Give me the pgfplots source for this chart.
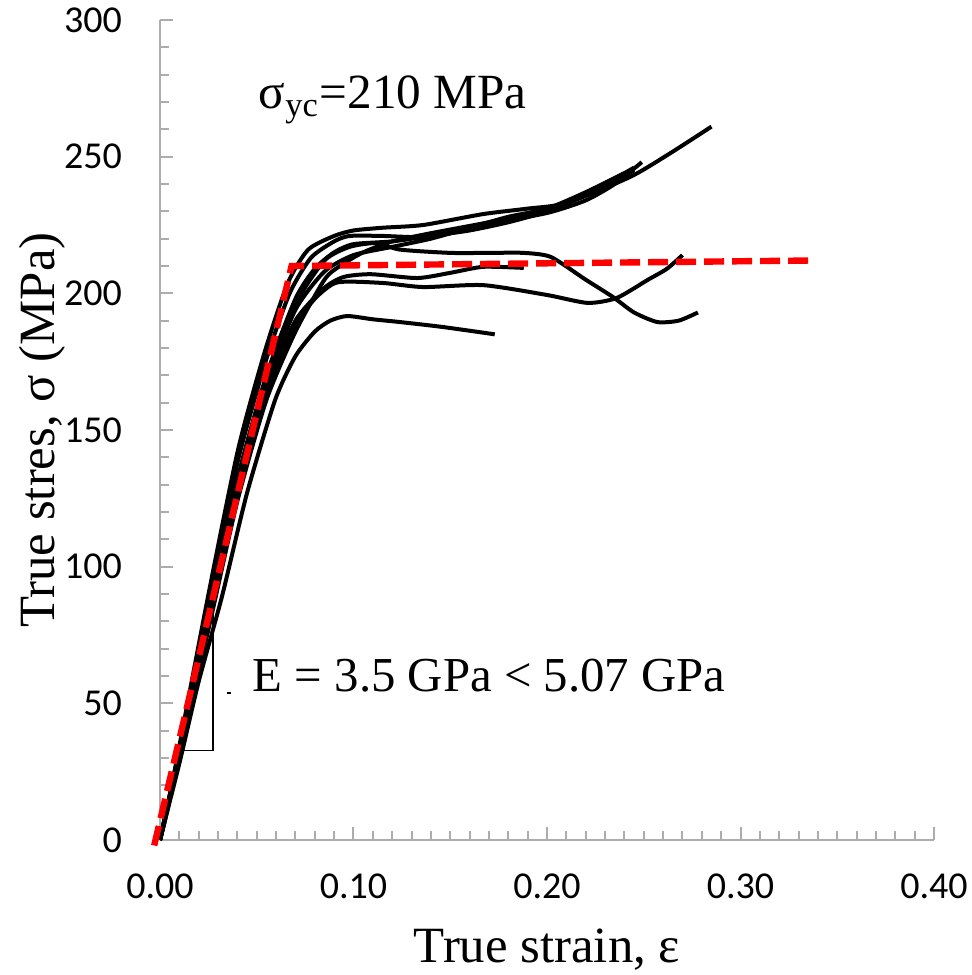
\documentclass[border=0pt]{standalone}
\usepackage{fontspec}
\setmainfont{Liberation Serif}
\newfontfamily\calibri{Carlito}
\usepackage{pgfplots}
\pgfplotsset{compat=1.18}

\begin{document}
\begin{tikzpicture}
\useasboundingbox (-40pt,-33.75pt) rectangle (203pt,210pt);
\begin{axis}[
    scale only axis,
    width=193.5pt, height=205pt,
    xmin=0, xmax=0.4, ymin=0, ymax=300,
    axis lines=left,
    axis line style={-, draw=gray!65, line width=0.6pt},
    xtick={0,0.1,0.2,0.3,0.4}, minor x tick num=9,
    ytick={0,50,100,150,200,250,300}, minor y tick num=4,
    tick align=inside,
    major tick length=3.2pt, minor tick length=2.2pt,
    tick style={draw=gray!65, line width=0.5pt},
    /pgf/number format/assume math mode=true,
    tick label style={font=\calibri\fontsize{9.5}{11}\selectfont},
    xticklabel style={/pgf/number format/.cd, fixed, fixed zerofill, precision=2, /tikz/.cd, yshift=-5pt},
    yticklabel style={xshift=-6pt},
    xlabel={True strain, ε},
    ylabel={True stres, σ (MPa)},
    xlabel style={at={(axis description cs:0.5,-0.15)}, anchor=base, font=\fontsize{12.7}{14}\selectfont},
    ylabel style={at={(axis description cs:-0.1357,0.50)}, anchor=base, font=\fontsize{12.7}{14}\selectfont},
    clip=false,
]

% measured curves
\addplot[black, line width=1pt, smooth, tension=0.4] coordinates {
  (0,0) (0.005,16) (0.0248,89) (0.0404,143) (0.0543,179) (0.0662,204) (0.0766,216)
  (0.09,221) (0.10,223) (0.115,224) (0.136,225) (0.167,229) (0.19,231) (0.21,233)
  (0.243,242.6) (0.264,251.4) (0.285,261)};
\addplot[black, line width=1pt, smooth, tension=0.4] coordinates {
  (0,0) (0.005,15) (0.025,85) (0.04,138) (0.055,176) (0.067,200) (0.078,213) (0.09,219)
  (0.098,221) (0.115,221) (0.133,220.6) (0.15,222) (0.167,225) (0.2,229.4) (0.22,234)
  (0.235,240) (0.249,248)};
\addplot[black, line width=1pt, smooth, tension=0.4] coordinates {
  (0,0) (0.025,82) (0.04,132) (0.055,170) (0.07,198) (0.08,209) (0.09,215) (0.10,218)
  (0.12,219) (0.14,221) (0.16,223) (0.18,226) (0.20,230) (0.22,236) (0.245,246)};
\addplot[black, line width=1pt, smooth, tension=0.4] coordinates {
  (0,0) (0.025,80) (0.04,129) (0.055,167) (0.07,194) (0.085,208) (0.1,214) (0.12,217)
  (0.14,220) (0.16,224) (0.18,228) (0.2,231) (0.22,237) (0.24,244)};
\addplot[black, line width=1pt, smooth, tension=0.4] coordinates {
  (0,0) (0.025,81) (0.04,130) (0.055,168) (0.07,196) (0.085,212) (0.098,217) (0.112,218.4)
  (0.124,216) (0.15,214.8) (0.17,214.8) (0.188,214.8) (0.202,213.3) (0.22,205)
  (0.234,198.7) (0.245,193) (0.257,189.5) (0.268,190) (0.278,193)};
\addplot[black, line width=1pt, smooth, tension=0.4] coordinates {
  (0,0) (0.025,79) (0.04,127) (0.055,165) (0.07,190) (0.085,202) (0.095,206) (0.109,207)
  (0.133,205.6) (0.15,207.5) (0.167,209.7) (0.188,209.3)};
\addplot[black, line width=1pt, smooth, tension=0.4] coordinates {
  (0,0) (0.025,78) (0.04,126) (0.055,163) (0.07,188) (0.08,198) (0.0916,204) (0.115,203.8)
  (0.136,202.3) (0.167,203) (0.2,199.4) (0.221,196.5) (0.236,198.3) (0.252,204.9)
  (0.262,209) (0.27,214)};
\addplot[black, line width=1pt, smooth, tension=0.4] coordinates {
  (0,0) (0.025,77) (0.04,124) (0.055,161) (0.07,186) (0.085,205) (0.093,210) (0.105,215)
  (0.12,219) (0.14,222) (0.17,226) (0.19,229) (0.21,233) (0.23,239) (0.245,245)};
\addplot[black, line width=1pt, smooth, tension=0.4] coordinates {
  (0,0) (0.01,28) (0.02,58) (0.032,89) (0.045,127) (0.0595,161) (0.07,177) (0.08,186)
  (0.088,190) (0.0967,191.7) (0.11,190.5) (0.124,189.5) (0.146,187.7) (0.173,185)};

% slope triangle
\addplot[black, line width=0.3pt] coordinates {(0.0114,32.6) (0.0274,32.6) (0.0274,86)};
\addplot[black, line width=0.3pt] coordinates {(0.0345,53.8) (0.0365,53.8)};

% bilinear fit
\addplot[red, line width=1.6pt, dash pattern=on 5pt off 2pt] coordinates {
  (-0.003,-2) (0.068,210) (0.335,212)};

\node[anchor=base west, inner sep=0pt, font=\fontsize{12.2}{14}\selectfont]
  at (axis cs:0.0476,54.2) {E = 3.5 GPa < 5.07 GPa};
\node[anchor=base west, inner sep=0pt, font=\fontsize{12.3}{14}\selectfont]
  at (axis cs:0.0507,267.5) {σ\textsubscript{yc}=210 MPa};
\end{axis}
\end{tikzpicture}
\end{document}
